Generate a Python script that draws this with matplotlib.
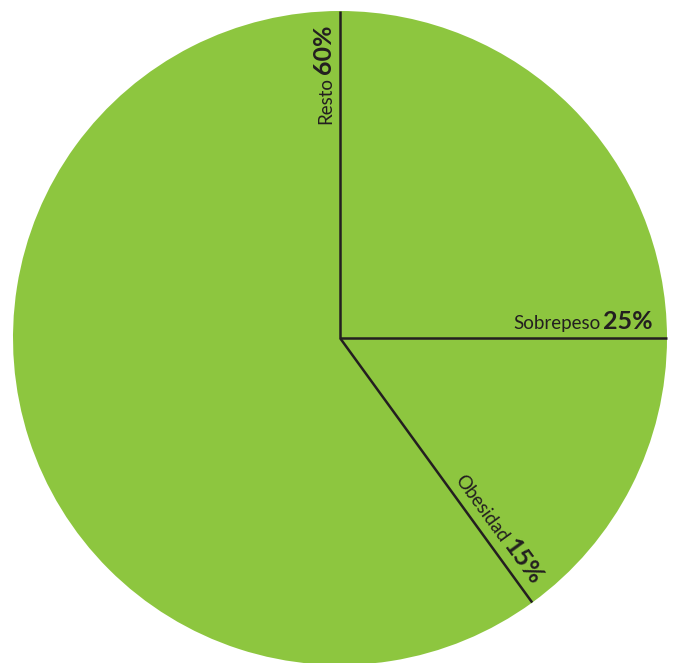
import numpy as np
import matplotlib
matplotlib.use("Agg")
import matplotlib.pyplot as plt

# shares, clockwise from 12 o'clock
labels = ["Sobrepeso", "Obesidad", "Resto"]
values = [25, 15, 60]

green = "#8dc63f"
ink = "#231f20"

W, H = 674, 663
fig = plt.figure(figsize=(W / 100, H / 100), dpi=100)
ax = fig.add_axes([0, 0, 1, 1])

cx, cy, R = 340, H - 338, 327
wedges, _ = ax.pie(values, startangle=90, counterclock=False, colors=[green] * 3,
                   center=(cx, cy), radius=R, wedgeprops=dict(linewidth=0))
ax.set_xlim(0, W)
ax.set_ylim(0, H)
ax.set_aspect("equal")
ax.axis("off")

renderer = fig.canvas.get_renderer()


def text_width(s, **kw):
    t = ax.text(0, 0, s, **kw)
    w = t.get_window_extent(renderer).width
    t.remove()
    return w


reg = dict(family="Lato", fontsize=13.5, color=ink)
bold = dict(family="Lato", fontsize=18, fontweight="bold", color=ink)

for w, name, v in zip(wedges, labels, values):
    th = np.deg2rad(w.theta1)
    d = np.array([np.cos(th), np.sin(th)])
    n = np.array([-np.sin(th), np.cos(th)])
    # boundary line
    ax.plot([cx, cx + R * d[0]], [cy, cy + R * d[1]], color=ink, lw=1.8,
            solid_capstyle="butt")
    # label along the boundary, reading outward
    pct = f"{v}%"
    p = np.array([cx, cy]) + 313 * d + 9 * n
    ax.text(p[0], p[1], pct, rotation=w.theta1, rotation_mode="anchor",
            ha="right", va="baseline", **bold)
    q = p - (text_width(pct, **bold) + 3) * d
    ax.text(q[0], q[1], name, rotation=w.theta1, rotation_mode="anchor",
            ha="right", va="baseline", **reg)

fig.savefig("out.png", dpi=100)
